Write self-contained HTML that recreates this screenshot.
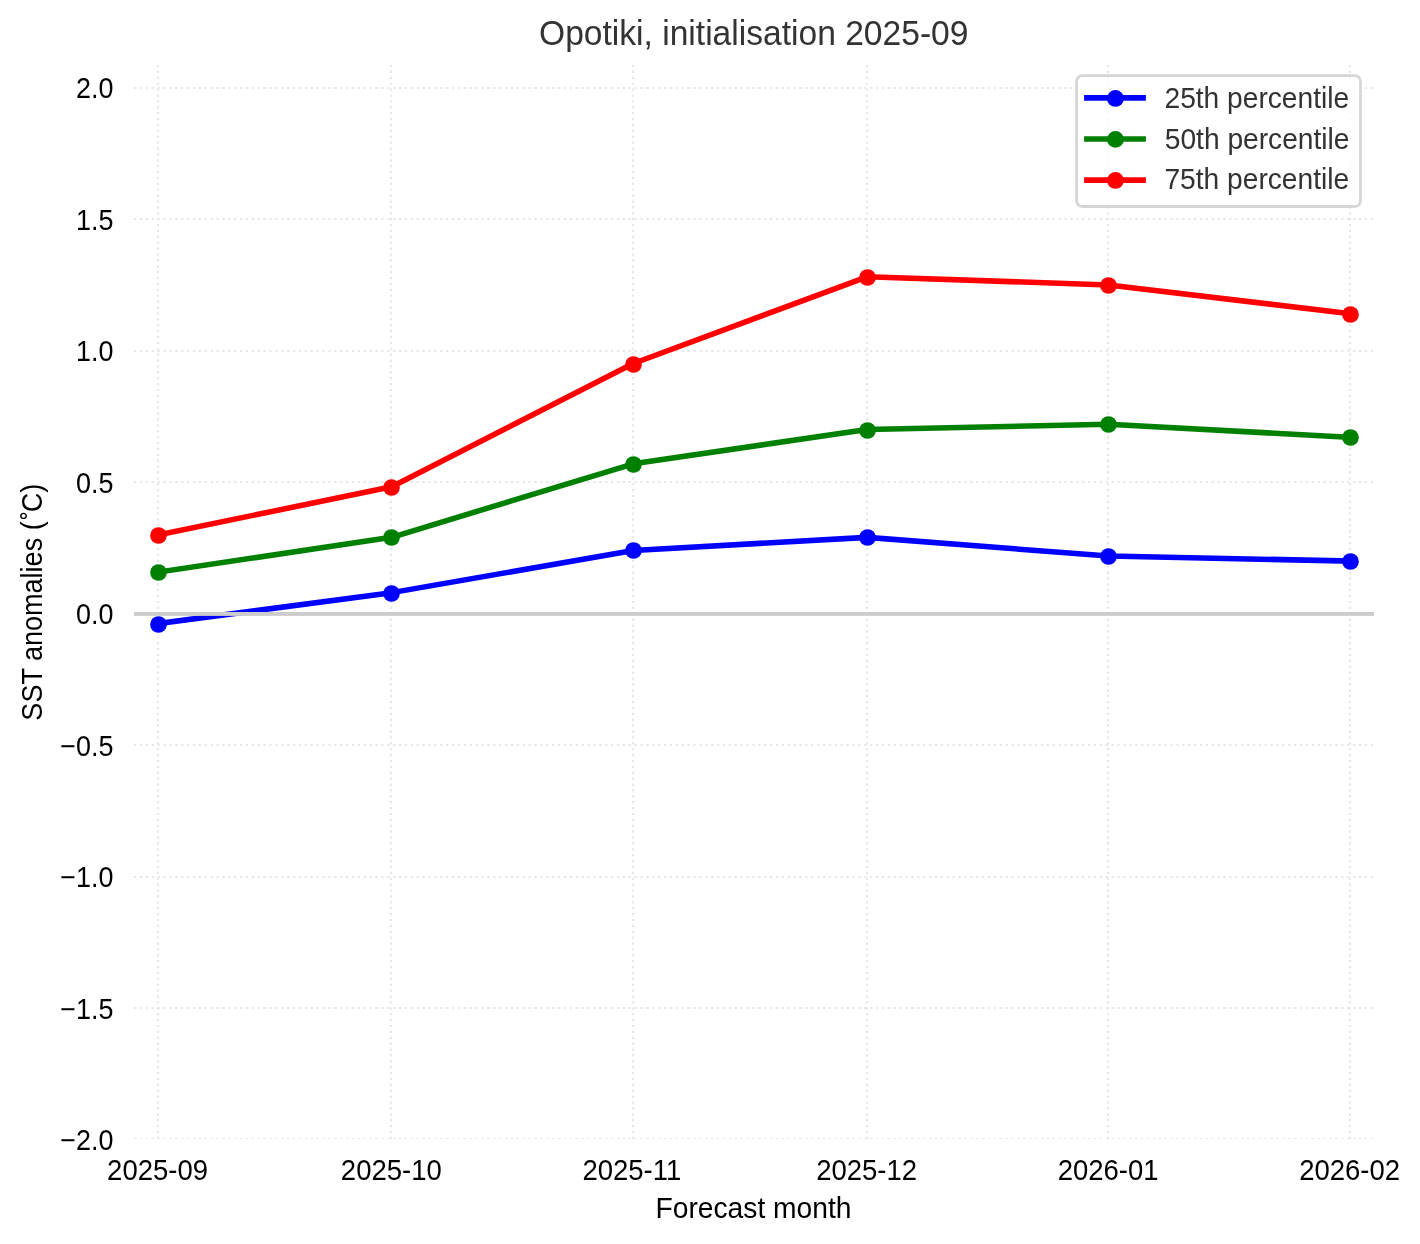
<!DOCTYPE html><html><head><meta charset="utf-8"><title>Opotiki, initialisation 2025-09</title><style>html,body{margin:0;padding:0;background:#fff;overflow:hidden;}svg{display:block;will-change:transform;}text{white-space:pre;}</style></head><body>
<svg width="1420" height="1244" viewBox="0 0 1420 1244" font-family='"Liberation Sans", sans-serif'>
<rect x="0" y="0" width="1420" height="1244" fill="#ffffff"/>
<clipPath id="ax"><rect x="134" y="61.5" width="1240" height="1077.5"/></clipPath>
<g clip-path="url(#ax)">
<line x1="134" y1="88.00" x2="1374" y2="88.00" stroke="#e7e7e7" stroke-width="2.222" stroke-dasharray="2.222 3.667"/>
<line x1="134" y1="219.00" x2="1374" y2="219.00" stroke="#e7e7e7" stroke-width="2.222" stroke-dasharray="2.222 3.667"/>
<line x1="134" y1="351.00" x2="1374" y2="351.00" stroke="#e7e7e7" stroke-width="2.222" stroke-dasharray="2.222 3.667"/>
<line x1="134" y1="482.00" x2="1374" y2="482.00" stroke="#e7e7e7" stroke-width="2.222" stroke-dasharray="2.222 3.667"/>
<line x1="134" y1="745.00" x2="1374" y2="745.00" stroke="#e7e7e7" stroke-width="2.222" stroke-dasharray="2.222 3.667"/>
<line x1="134" y1="877.00" x2="1374" y2="877.00" stroke="#e7e7e7" stroke-width="2.222" stroke-dasharray="2.222 3.667"/>
<line x1="134" y1="1008.00" x2="1374" y2="1008.00" stroke="#e7e7e7" stroke-width="2.222" stroke-dasharray="2.222 3.667"/>
<line x1="134" y1="1139.00" x2="1374" y2="1139.00" stroke="#e7e7e7" stroke-width="2.222" stroke-dasharray="2.222 3.667"/>
<line x1="158.00" y1="1139" x2="158.00" y2="61.5" stroke="#e7e7e7" stroke-width="2.222" stroke-dasharray="2.222 3.667"/>
<line x1="391.00" y1="1139" x2="391.00" y2="61.5" stroke="#e7e7e7" stroke-width="2.222" stroke-dasharray="2.222 3.667"/>
<line x1="633.00" y1="1139" x2="633.00" y2="61.5" stroke="#e7e7e7" stroke-width="2.222" stroke-dasharray="2.222 3.667"/>
<line x1="867.00" y1="1139" x2="867.00" y2="61.5" stroke="#e7e7e7" stroke-width="2.222" stroke-dasharray="2.222 3.667"/>
<line x1="1108.00" y1="1139" x2="1108.00" y2="61.5" stroke="#e7e7e7" stroke-width="2.222" stroke-dasharray="2.222 3.667"/>
<line x1="1350.00" y1="1139" x2="1350.00" y2="61.5" stroke="#e7e7e7" stroke-width="2.222" stroke-dasharray="2.222 3.667"/>
</g>
<polyline points="158.00,623.54 391.75,592.63 633.28,550.47 867.03,537.39 1108.56,556.07 1350.10,561.05" fill="none" stroke="#0000ff" stroke-width="5.556" stroke-linejoin="round" stroke-linecap="square"/>
<circle cx="158.50" cy="624.50" r="8.33" fill="#0000ff"/>
<circle cx="391.50" cy="593.50" r="8.33" fill="#0000ff"/>
<circle cx="633.50" cy="550.50" r="8.33" fill="#0000ff"/>
<circle cx="867.50" cy="537.50" r="8.33" fill="#0000ff"/>
<circle cx="1108.50" cy="556.50" r="8.33" fill="#0000ff"/>
<circle cx="1350.50" cy="561.50" r="8.33" fill="#0000ff"/>
<polyline points="158.00,572.13 391.75,537.29 633.28,463.79 867.03,429.50 1108.56,424.22 1350.10,437.41" fill="none" stroke="#008000" stroke-width="5.556" stroke-linejoin="round" stroke-linecap="square"/>
<circle cx="158.50" cy="572.50" r="8.33" fill="#008000"/>
<circle cx="391.50" cy="537.50" r="8.33" fill="#008000"/>
<circle cx="633.50" cy="464.50" r="8.33" fill="#008000"/>
<circle cx="867.50" cy="430.50" r="8.33" fill="#008000"/>
<circle cx="1108.50" cy="424.50" r="8.33" fill="#008000"/>
<circle cx="1350.50" cy="437.50" r="8.33" fill="#008000"/>
<polyline points="158.00,534.89 391.75,486.83 633.28,363.52 867.03,276.83 1108.56,284.92 1350.10,313.68" fill="none" stroke="#ff0000" stroke-width="5.556" stroke-linejoin="round" stroke-linecap="square"/>
<circle cx="158.50" cy="535.50" r="8.33" fill="#ff0000"/>
<circle cx="391.50" cy="487.50" r="8.33" fill="#ff0000"/>
<circle cx="633.50" cy="364.50" r="8.33" fill="#ff0000"/>
<circle cx="867.50" cy="277.50" r="8.33" fill="#ff0000"/>
<circle cx="1108.50" cy="285.50" r="8.33" fill="#ff0000"/>
<circle cx="1350.50" cy="314.50" r="8.33" fill="#ff0000"/>
<rect x="134" y="612" width="1240" height="3.9" fill="#cccccc"/>
<text transform="translate(76.02,98.00) scale(0.9350,1)" font-size="28.8" fill="#000">2.0</text>
<text transform="translate(76.10,230.00) scale(0.9350,1)" font-size="28.8" fill="#000">1.5</text>
<text transform="translate(76.02,361.00) scale(0.9350,1)" font-size="28.8" fill="#000">1.0</text>
<text transform="translate(76.10,493.00) scale(0.9350,1)" font-size="28.8" fill="#000">0.5</text>
<text transform="translate(76.02,624.00) scale(0.9350,1)" font-size="28.8" fill="#000">0.0</text>
<text transform="translate(60.37,756.00) scale(0.9350,1)" font-size="28.8" fill="#000">−0.5</text>
<text transform="translate(60.29,887.00) scale(0.9350,1)" font-size="28.8" fill="#000">−1.0</text>
<text transform="translate(60.37,1019.00) scale(0.9350,1)" font-size="28.8" fill="#000">−1.5</text>
<text transform="translate(60.29,1150.00) scale(0.9350,1)" font-size="28.8" fill="#000">−2.0</text>
<text transform="translate(107.12,1180.00) scale(0.9550,1)" font-size="28.8" fill="#000">2025-09</text>
<text transform="translate(340.86,1180.00) scale(0.9550,1)" font-size="28.8" fill="#000">2025-10</text>
<text transform="translate(582.40,1180.00) scale(0.9550,1)" font-size="28.8" fill="#000">2025-11</text>
<text transform="translate(816.14,1180.00) scale(0.9550,1)" font-size="28.8" fill="#000">2025-12</text>
<text transform="translate(1057.68,1180.00) scale(0.9550,1)" font-size="28.8" fill="#000">2026-01</text>
<text transform="translate(1299.22,1180.00) scale(0.9550,1)" font-size="28.8" fill="#000">2026-02</text>
<text transform="translate(655.48,1218.00) scale(0.9800,1)" font-size="28.8" fill="#000">Forecast month</text>
<text transform="translate(41.80,720.64) rotate(-90) scale(0.9390,1)" font-size="28.8" fill="#000">SST anomalies (<tspan dx="1.7" dy="2.5">˚</tspan><tspan dx="-1.7" dy="-2.5">C)</tspan></text>
<text transform="translate(539.01,45.00) scale(0.9710,1)" font-size="34.6" fill="#333333">Opotiki, initialisation 2025-09</text>
<rect x="1076.6" y="75.55" width="283.85" height="130.95" rx="5.56" ry="5.56" fill="#ffffff" fill-opacity="0.8" stroke="#cccccc" stroke-opacity="0.8" stroke-width="2.78"/>
<line x1="1084.1" y1="97.90" x2="1145.9" y2="97.90" stroke="#0000ff" stroke-width="5.556"/>
<circle cx="1115.45" cy="98.45" r="8.4" fill="#0000ff"/>
<text transform="translate(1164.48,108.00) scale(0.9780,1)" font-size="28.8" fill="#333333">25th percentile</text>
<line x1="1084.1" y1="139.00" x2="1145.9" y2="139.00" stroke="#008000" stroke-width="5.556"/>
<circle cx="1115.45" cy="139.4" r="8.4" fill="#008000"/>
<text transform="translate(1164.77,149.00) scale(0.9780,1)" font-size="28.8" fill="#333333">50th percentile</text>
<line x1="1084.1" y1="180.10" x2="1145.9" y2="180.10" stroke="#ff0000" stroke-width="5.556"/>
<circle cx="1115.45" cy="180.45" r="8.4" fill="#ff0000"/>
<text transform="translate(1164.46,189.00) scale(0.9780,1)" font-size="28.8" fill="#333333">75th percentile</text>
</svg></body></html>
